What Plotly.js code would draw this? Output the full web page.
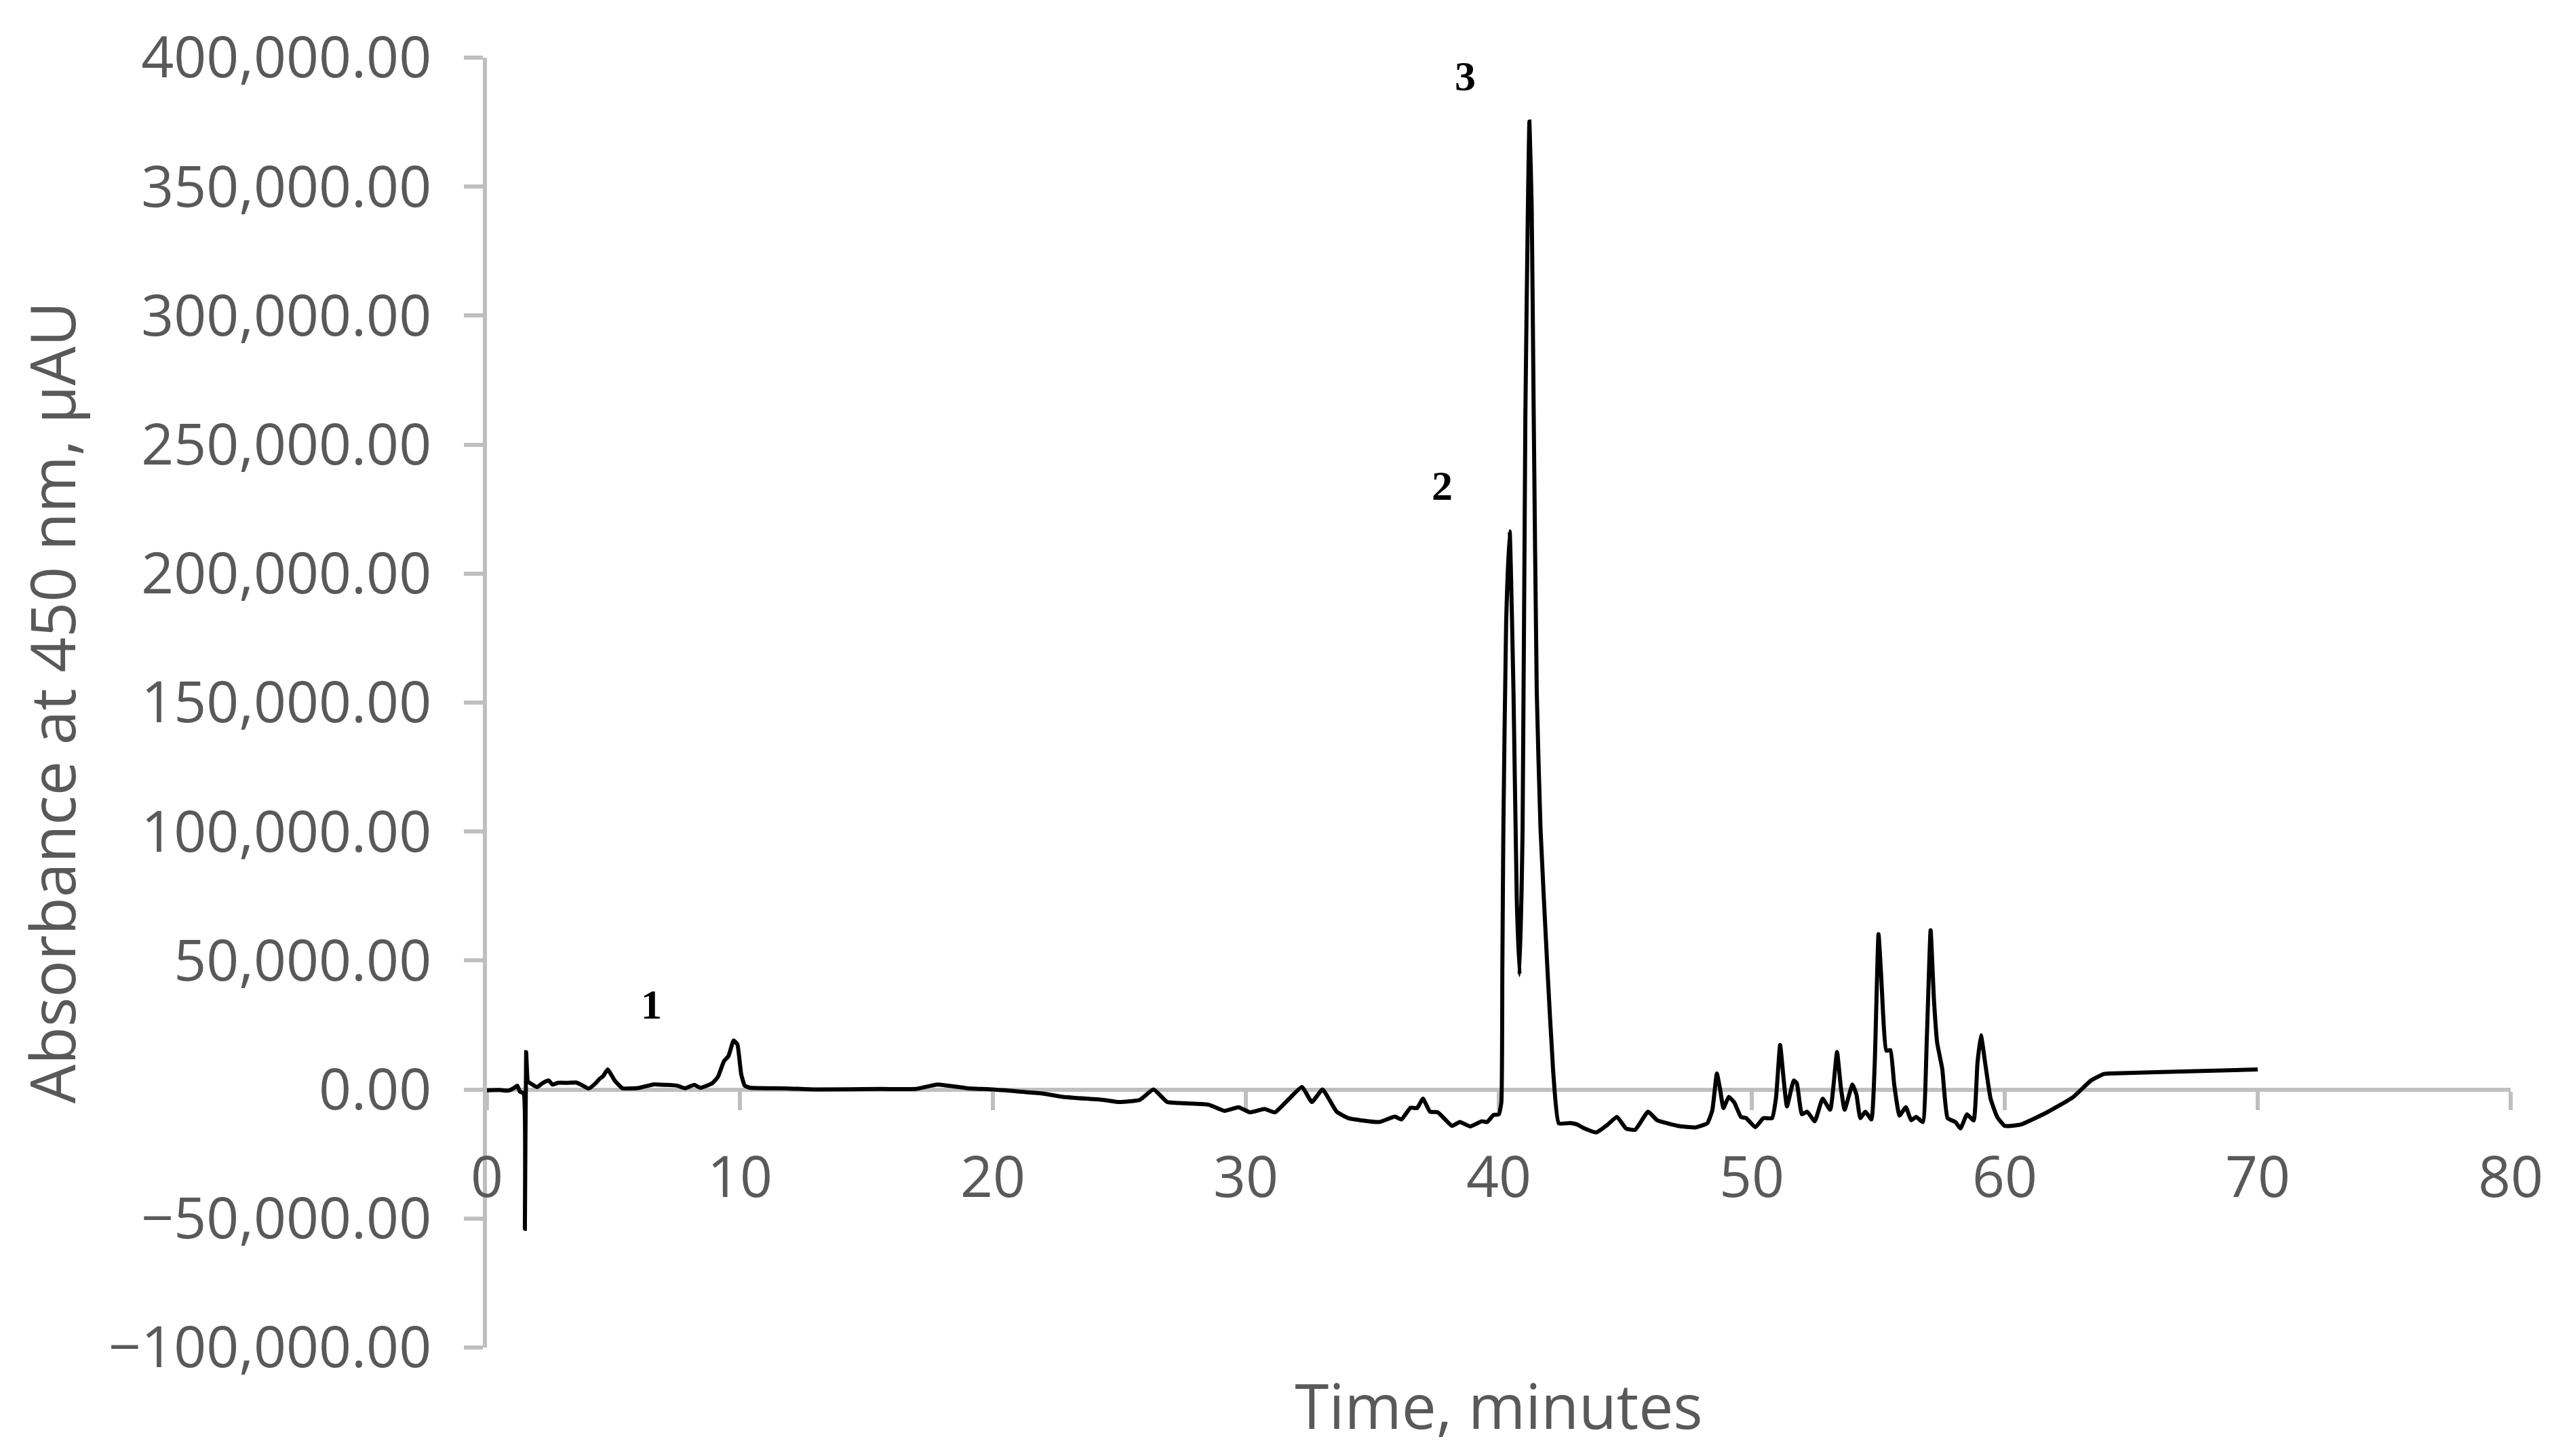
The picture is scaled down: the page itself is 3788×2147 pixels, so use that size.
<!DOCTYPE html>
<html>
<head>
<meta charset="utf-8">
<script src="https://cdn.plot.ly/plotly-3.0.1.min.js"></script>
<style>
	html, body { margin: 0; padding: 0; background: white; }
	#plot-chrom { width: 3788px; height: 2147px; }
</style>
</head>
<body>
<div id="plot-chrom"></div>
<script>
/*
HPLC chromatogram, absorbance at 450 nm
*/

// retention time, minutes
const TIME = [
	0.00, 0.50, 0.85, 1.10, 1.20, 1.30, 1.45, 1.50, 1.55, 1.62, 1.72, 1.98, 2.20, 2.44, 2.59,
	2.80, 3.20, 3.52, 3.70, 4.03, 4.30, 4.44, 4.60, 4.77, 5.05, 5.36, 6.00, 6.60, 7.06, 7.52,
	7.83, 8.19, 8.44, 8.90, 9.13, 9.37, 9.55, 9.75, 9.90, 10.05, 10.19, 10.40, 11.83, 13.00,
	15.60, 16.94, 17.81, 18.99, 20.01, 21.96, 22.78, 24.39, 25.00, 25.80, 26.35, 26.89, 27.40,
	28.52, 29.15, 29.71, 30.17, 30.74, 31.15, 31.69, 32.22, 32.61, 33.03, 33.59, 34.05, 35.28,
	35.89, 36.15, 36.51, 36.77, 37.00, 37.28, 37.59, 38.15, 38.46, 38.87, 39.33, 39.54, 39.79,
	40.00, 40.10, 40.14, 40.18, 40.29, 40.43, 40.58, 40.71, 40.82, 40.94, 41.05, 41.15, 41.21,
	41.30, 41.38, 41.50, 41.65, 41.92, 42.15, 42.37, 42.82, 43.08, 43.39, 43.85, 44.31, 44.67,
	45.03, 45.39, 45.90, 46.26, 47.08, 47.77, 48.24, 48.44, 48.62, 48.75, 48.88, 49.09, 49.31,
	49.57, 49.78, 50.14, 50.46, 50.80, 50.96, 51.12, 51.27, 51.39, 51.66, 51.78, 51.98, 52.19,
	52.49, 52.80, 53.10, 53.37, 53.52, 53.67, 53.98, 54.14, 54.29, 54.49, 54.73, 54.86, 55.01,
	55.11, 55.32, 55.48, 55.63, 55.84, 56.09, 56.30, 56.50, 56.76, 56.92, 57.07, 57.20, 57.33,
	57.53, 57.74, 58.05, 58.25, 58.51, 58.77, 58.92, 59.06, 59.23, 59.44, 59.70, 60.00, 60.64,
	61.67, 62.69, 63.41, 63.90, 64.10, 66.00, 70.00
];

// absorbance, µAU
const ABSORBANCE = [
	-300, -200, -400, 800, 1500, -800, -1500, -54000, 14500, 3000, 2400, 970, 2500, 3500, 1900,
	2600, 2600, 2700, 2000, 400, 2500, 4000, 5300, 7800, 3500, 500, 600, 2000, 1800, 1500,
	500, 1800, 700, 2400, 4900, 11000, 13000, 19000, 17500, 6000, 1500, 700, 450, 0,
	200, 200, 1950, 500, 0, -1550, -2850, -4050, -4850, -4050, 0, -4850, -5250,
	-5850, -8250, -6850, -8850, -7550, -8850, -3800, 1000, -4850, 0, -8600, -11100, -12600,
	-10500, -11600, -7050, -7200, -3550, -8600, -8850, -14100, -12600, -14300, -12300, -12600, -9850,
	-9600, -5000, 47000, 100800, 181100, 216400, 154300, 73900, 44400, 100800, 261400, 341800, 375200,
	341800, 261400, 154300, 100800, 47100, 6900, -13100, -13000, -13500, -15100, -16600, -13550, -10600,
	-15100, -15600, -8600, -11900, -14100, -14700, -13100, -8050, 6200, 0, -7200, -2850, -5050,
	-10600, -11100, -14600, -11100, -11100, -3050, 17250, 2950, -6550, 3500, 2450, -9600, -8600,
	-12300, -3550, -7850, 14550, 950, -7850, 1950, -2050, -11100, -8600, -11600, 10000, 60250,
	45150, 15050, 15300, 1950, -10100, -6850, -11900, -10600, -12600, 20050, 61750, 35100, 18050,
	8000, -11100, -12600, -15100, -9600, -12000, 10000, 21050, 10000, -3550, -10600, -14100, -13550,
	-8850, -3050, 3500, 6000, 6200, 6700, 7800
];

// peak labels
const PEAK_LABELS = [ '1', '2', '3' ];
const PEAK_LABEL_X = [ 6.51, 37.77, 38.66 ];
const PEAK_LABEL_Y = [ 33000, 234000, 393000 ];

const AXIS_COLOR  = '#BFBFBF';
const TEXT_COLOR  = '#595959';
const TICK_FONT   = { family: 'Open Sans, Noto Sans, sans-serif', size: 84, color: TEXT_COLOR };
const TITLE_FONT  = { family: 'Open Sans, Noto Sans, sans-serif', size: 91, color: TEXT_COLOR };
const LABEL_FONT  = { family: 'Liberation Serif, Times New Roman, serif', size: 62, color: 'black' };
const Y_MIN       = -100000;
const Y_MAX       = 400000;

function make_trace_chrom( ts, vals ) {
	return {
		x   : ts,
		y   : vals,
		mode: 'lines',
		type: 'scatter',
		line: { color: 'black', width: 6, shape: 'spline', smoothing: 0.4 },
		name: 'A450'
	};
}

function make_peak_labels( labels, xs, ys ) {
	return labels.map( function( txt, i ) {
		return {
			x: xs[ i ], y: ys[ i ], xref: 'x', yref: 'y',
			text: '<b>' + txt + '</b>', showarrow: false,
			font: LABEL_FONT, xanchor: 'center', yanchor: 'middle'
		};
	} );
}

function create_chrom_plot() {
	let traces = [ make_trace_chrom( TIME, ABSORBANCE ) ];

	let layout = {
		width        : 3788,
		height       : 2147,
		showlegend   : false,
		plot_bgcolor : 'white',
		paper_bgcolor: 'white',
		margin       : { l: 718, r: 86, t: 85, b: 160, pad: 0 },
		xaxis        : {
			range    : [ 0, 80 ],
			autorange: false,
			tickmode : 'linear',
			tick0    : 0,
			dtick    : 10,
			anchor   : 'free',
			position : ( 0 - Y_MIN ) / ( Y_MAX - Y_MIN ),
			showline : true,
			linecolor: AXIS_COLOR,
			linewidth: 6,
			ticks    : 'outside',
			ticklen  : 27,
			tickwidth: 6,
			tickcolor: AXIS_COLOR,
			ticklabelstandoff: 28,
			showgrid : false,
			zeroline : false,
			layer    : 'below traces',
			tickfont : TICK_FONT,
			title    : { text: 'Time, minutes', font: TITLE_FONT, standoff: 253 }
		},
		yaxis        : {
			range     : [ Y_MIN, Y_MAX ],
			autorange : false,
			tickmode  : 'linear',
			tick0     : 0,
			dtick     : 50000,
			tickformat: ',.2f',
			showline  : true,
			linecolor : AXIS_COLOR,
			linewidth : 6,
			ticks     : 'outside',
			ticklen   : 28,
			tickwidth : 6,
			tickcolor : AXIS_COLOR,
			ticklabelstandoff: 31,
			showgrid  : false,
			zeroline  : false,
			layer     : 'below traces',
			tickfont  : TICK_FONT,
			title     : { text: 'Absorbance at 450 nm, µAU', font: TITLE_FONT, standoff: 20 }
		},
		annotations: make_peak_labels( PEAK_LABELS, PEAK_LABEL_X, PEAK_LABEL_Y )
	};

	Plotly.newPlot( 'plot-chrom', traces, layout, { staticPlot: true } );
}

create_chrom_plot();
</script>
</body>
</html>
